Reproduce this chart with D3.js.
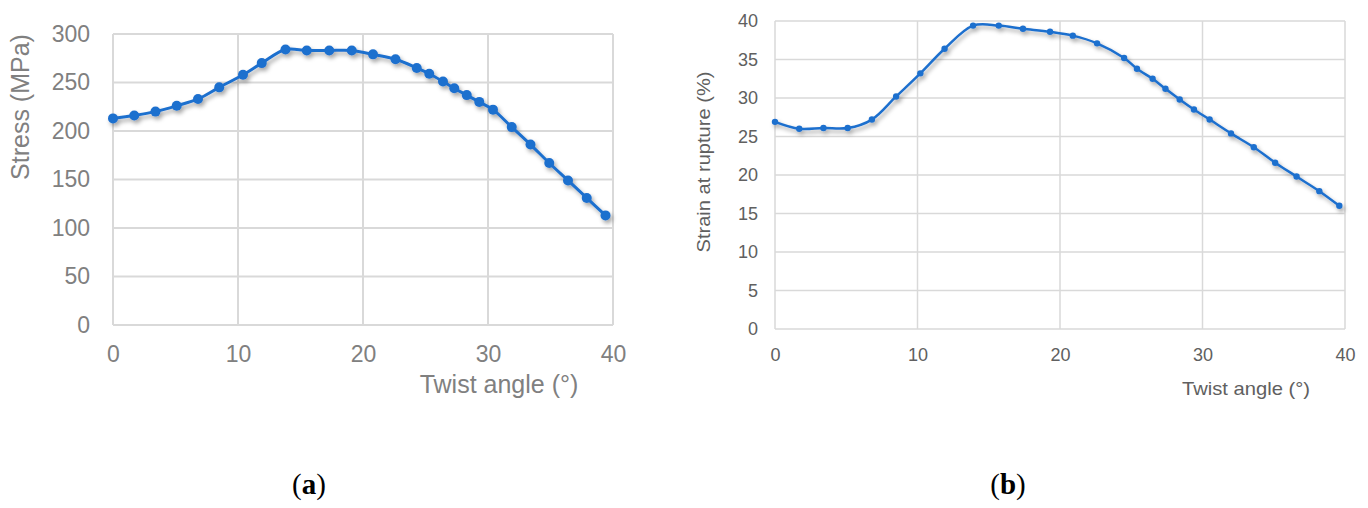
<!DOCTYPE html>
<html>
<head>
<meta charset="utf-8">
<script src="https://cdn.jsdelivr.net/npm/d3@7"></script>
<style>
  body { margin: 0; background: #fff; }
  svg { display: block; }
</style>
</head>
<body>
<svg id="fig" width="1368" height="508"></svg>
<script>
// chart (a): stress vs twist angle
const angleA = [0, 1.7, 3.4, 5.1, 6.8, 8.5, 10.4, 11.9, 13.8, 15.5, 17.3, 19.1, 20.8, 22.6,
  24.3, 25.3, 26.4, 27.3, 28.3, 29.3, 30.4, 31.9, 33.4, 34.9, 36.4, 37.9, 39.4];
const stress = [213, 216, 220, 226, 233, 245, 258, 270, 284, 283, 283, 283, 279, 274,
  265, 259, 251, 244, 237, 230, 222, 204, 186, 167, 149, 131, 113];

// chart (b): strain at rupture vs twist angle
const angleB = [0, 1.7, 3.4, 5.1, 6.8, 8.5, 10.2, 11.9, 13.9, 15.7, 17.4, 19.3, 20.9, 22.6,
  24.5, 25.4, 26.5, 27.4, 28.4, 29.4, 30.5, 32.0, 33.6, 35.1, 36.6, 38.2, 39.6];
const strain = [26.9, 26.0, 26.1, 26.1, 27.2, 30.2, 33.2, 36.4, 39.4, 39.4, 39.0, 38.6, 38.1, 37.1,
  35.2, 33.8, 32.5, 31.2, 29.8, 28.5, 27.2, 25.4, 23.6, 21.6, 19.8, 17.9, 16.0];

const xTicks = [0, 10, 20, 30, 40];
const yTicksA = [0, 50, 100, 150, 200, 250, 300];
const yTicksB = [0, 5, 10, 15, 20, 25, 30, 35, 40];

const blue = '#1f6fce';
const svg = d3.select('#fig');

const defs = svg.append('defs');
defs.append('filter').attr('id', 'shadow')
  .attr('x', '-10%').attr('y', '-10%').attr('width', '130%').attr('height', '140%')
  .append('feDropShadow')
  .attr('dx', 2).attr('dy', 3).attr('stdDeviation', 2)
  .attr('flood-color', '#000').attr('flood-opacity', 0.35);

function drawPanel(cfg) {
  const g = svg.append('g');
  const x = d3.scaleLinear().domain([0, 40]).range([cfg.left, cfg.right]);
  const y = d3.scaleLinear().domain(cfg.yDomain).range([cfg.bottom, cfg.top]);

  // grid
  g.selectAll('.hgrid').data(cfg.yTicks).join('line')
    .attr('x1', cfg.left).attr('x2', cfg.right)
    .attr('y1', d => y(d)).attr('y2', d => y(d))
    .attr('stroke', '#d9d9d9').attr('stroke-width', cfg.gridW);
  g.selectAll('.vgrid').data(xTicks).join('line')
    .attr('x1', d => x(d)).attr('x2', d => x(d))
    .attr('y1', cfg.top).attr('y2', cfg.bottom)
    .attr('stroke', '#d9d9d9').attr('stroke-width', cfg.gridW);

  // tick labels
  const yAxis = d3.axisLeft(y).tickValues(cfg.yTicks).tickSize(0).tickPadding(cfg.yPad);
  const ya = g.append('g').attr('transform', `translate(${cfg.left},0)`).call(yAxis);
  ya.select('.domain').remove();
  ya.selectAll('text').attr('font-size', cfg.tickSize).attr('fill', cfg.textColor)
    .attr('font-family', 'Liberation Sans, Arial, sans-serif');

  const xAxis = d3.axisBottom(x).tickValues(xTicks).tickSize(0).tickPadding(cfg.xPad);
  const xa = g.append('g').attr('transform', `translate(0,${cfg.bottom})`).call(xAxis);
  xa.select('.domain').remove();
  xa.selectAll('text').attr('font-size', cfg.tickSize).attr('fill', cfg.textColor)
    .attr('font-family', 'Liberation Sans, Arial, sans-serif');

  // axis titles
  const yt = g.append('text')
    .attr('transform', `translate(${cfg.yTitleX},${cfg.yTitleY}) rotate(-90)`)
    .attr('text-anchor', 'middle')
    .attr('font-family', 'Liberation Sans, Arial, sans-serif')
    .attr('font-size', cfg.yTitleSize).attr('fill', cfg.textColor)
    .text(cfg.yTitle);
  if (cfg.yTitleLen) yt.attr('textLength', cfg.yTitleLen).attr('lengthAdjust', 'spacingAndGlyphs');
  const xt = g.append('text')
    .attr('x', cfg.xTitleX).attr('y', cfg.xTitleY)
    .attr('text-anchor', 'middle')
    .attr('font-family', 'Liberation Sans, Arial, sans-serif')
    .attr('font-size', cfg.xTitleSize).attr('fill', cfg.textColor)
    .text(cfg.xTitle);
  if (cfg.xTitleLen) xt.attr('textLength', cfg.xTitleLen).attr('lengthAdjust', 'spacingAndGlyphs');

  // series
  const pts = cfg.xs.map((d, i) => [d, cfg.ys[i]]);
  const line = d3.line().x(d => x(d[0])).y(d => y(d[1])).curve(cfg.curve);
  const s = g.append('g').attr('filter', 'url(#shadow)');
  s.append('path').datum(pts)
    .attr('d', line).attr('fill', 'none')
    .attr('stroke', blue).attr('stroke-width', cfg.lineW);
  s.selectAll('circle').data(pts).join('circle')
    .attr('cx', d => x(d[0])).attr('cy', d => y(d[1]))
    .attr('r', cfg.r).attr('fill', blue);

  // panel caption
  const cap = svg.append('text')
    .attr('x', cfg.capX).attr('y', 494)
    .attr('text-anchor', 'middle')
    .attr('font-family', 'Liberation Serif, DejaVu Serif, serif')
    .attr('font-size', 29).attr('fill', '#000');
  cap.append('tspan').text('(');
  cap.append('tspan').attr('font-weight', 'bold').text(cfg.capLetter);
  cap.append('tspan').text(')');
}

drawPanel({
  left: 113, right: 613, top: 34, bottom: 325,
  yDomain: [0, 300], yTicks: yTicksA, xs: angleA, ys: stress,
  gridW: 2, tickSize: 23, yPad: 23, xPad: 21, textColor: '#808080',
  yTitle: 'Stress (MPa)', yTitleX: 29, yTitleY: 107, yTitleSize: 25,
  xTitle: 'Twist angle (°)', xTitleX: 499, xTitleY: 393, xTitleSize: 25,
  curve: d3.curveCatmullRom.alpha(0.5), lineW: 3, r: 5,
  capX: 309, capLetter: 'a'
});

drawPanel({
  left: 775, right: 1345, top: 21, bottom: 329,
  yDomain: [0, 40], yTicks: yTicksB, xs: angleB, ys: strain,
  gridW: 1.5, tickSize: 18, yPad: 17, xPad: 19, textColor: '#606060',
  yTitle: 'Strain at rupture (%)', yTitleX: 710, yTitleY: 162, yTitleSize: 18, yTitleLen: 181,
  xTitle: 'Twist angle (°)', xTitleX: 1246, xTitleY: 395, xTitleSize: 19, xTitleLen: 128,
  curve: d3.curveCatmullRom.alpha(0.5), lineW: 2.5, r: 3.2,
  capX: 1008, capLetter: 'b'
});
</script>
</body>
</html>
